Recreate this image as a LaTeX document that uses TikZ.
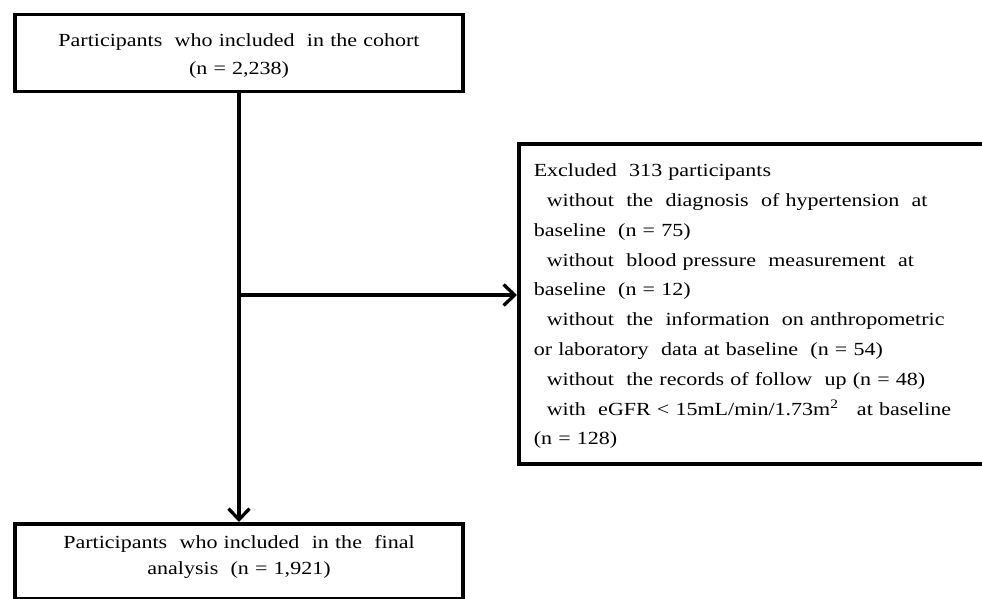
\documentclass[tikz,border=0pt]{standalone}
\usepackage{fontspec}
\setmainfont{Liberation Serif}[FakeStretch=1.19]
\usetikzlibrary{arrows.meta,calc,positioning}

\begin{document}
\begin{tikzpicture}[x=1pt,y=-1pt,
  box/.style={draw, line width=3.5pt, inner sep=0pt},
  flow/.style={-{Straight Barb[length=11pt,width=21pt]}, line width=3.3pt}]
\useasboundingbox (0,0) rectangle (982,599);

\node[box, anchor=north, text width=448pt, align=center,
  font=\fontsize{18.5}{28}\selectfont] (cohort) at (239,13)
  {\rule{0pt}{32pt}Participants~ who included~ in the cohort\\
   (n = 2,238)\rule[-17pt]{0pt}{17pt}};

\node[box, anchor=north west, text width=453pt, inner xsep=15pt, align=left,
  font=\fontsize{18.5}{29.8}\selectfont] (excluded) at (517,142)
  {\rule{0pt}{33pt}Excluded~ 313 participants\\
   \hspace*{13pt}without~ the~ diagnosis~ of hypertension~ at\\
   baseline~ (n = 75)\\
   \hspace*{13pt}without~ blood pressure~ measurement~ at\\
   baseline~ (n = 12)\\
   \hspace*{13pt}without~ the~ information~ on anthropometric\\
   or laboratory~ data at baseline~ (n = 54)\\
   \hspace*{13pt}without~ the records of follow~ up (n = 48)\\
   \hspace*{13pt}with~ eGFR < 15mL/min/1.73m\textsuperscript{2}~~ at baseline\\
   (n = 128)\rule[-19pt]{0pt}{19pt}};

\node[box, anchor=north, text width=448pt, align=center,
  font=\fontsize{18.5}{26}\selectfont] (final) at (239,522)
  {\rule{0pt}{25pt}Participants~ who included~ in the~ final\\
   analysis~ (n = 1,921)\rule[-24pt]{0pt}{24pt}};

\coordinate (split) at (cohort.south |- 0,295);
\draw[flow] (cohort.south) -- (final.north);
\draw[flow] (split) -- (split -| excluded.west);
\end{tikzpicture}
\end{document}
